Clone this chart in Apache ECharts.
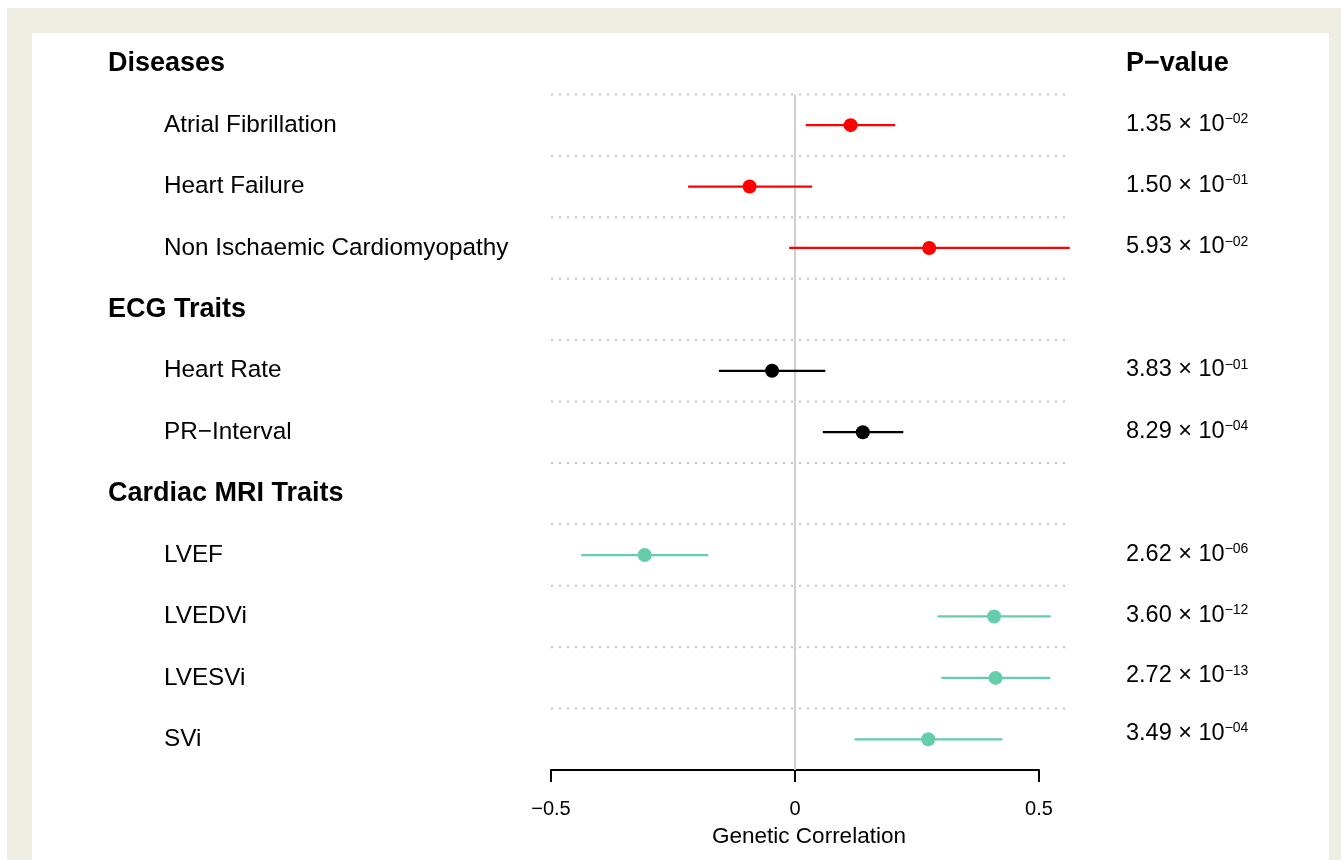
<!DOCTYPE html>
<html><head><meta charset="utf-8">
<script src="https://cdn.jsdelivr.net/npm/echarts@6/dist/echarts.min.js"></script>
<style>
html,body{margin:0;padding:0;background:#ffffff;width:1341px;height:860px;overflow:hidden;}
#bg{position:absolute;left:7px;top:8px;width:1334px;height:852px;background:#efeee4;}
#panel{position:absolute;left:32px;top:33px;width:1297px;height:827px;background:#ffffff;}
#chart{position:absolute;left:0;top:0;width:1341px;height:860px;}
</style></head>
<body>
<div id="bg"></div><div id="panel"></div><div id="chart"></div>
<script>
// ---------------- data ----------------
const groups = ['Diseases', 'ECG Traits', 'Cardiac MRI Traits'];
const traits = ['Atrial Fibrillation', 'Heart Failure', 'Non Ischaemic Cardiomyopathy',
                'Heart Rate', 'PR\u2212Interval',
                'LVEF', 'LVEDVi', 'LVESVi', 'SVi'];
const traitGroup = [0, 0, 0, 1, 1, 2, 2, 2, 2];
const estimate = [0.114, -0.093, 0.275, -0.047, 0.139, -0.308, 0.408, 0.411, 0.273];
const lowerCI  = [0.022, -0.219, -0.012, -0.156, 0.057, -0.438, 0.292, 0.300, 0.122];
const upperCI  = [0.205, 0.035, 0.563, 0.062, 0.222, -0.178, 0.524, 0.523, 0.425];
const pMantissa = ['1.35', '1.50', '5.93', '3.83', '8.29', '2.62', '3.60', '2.72', '3.49'];
const pExponent = ['\u221202', '\u221201', '\u221202', '\u221201', '\u221204', '\u221206', '\u221212', '\u221213', '\u221204'];
const xTickValues = [-0.5, 0, 0.5];
const pHeader = 'P\u2212value';
const xTitle = 'Genetic Correlation';

// ---------------- styles ----------------
const groupColors = ['#FF0000', '#000000', '#66CDAA'];
const FONT = '"Liberation Sans", Arial, Helvetica, sans-serif';
const separatorEnd = 0.557;          // dotted guide lines run slightly past the axis end
const pLabelRaise = [0, 0, 0, 0, 0, 0, 0, 3, 7]; // px each p-value label sits above its row

// ---------------- build rows ----------------
const rows = [];
groups.forEach((g, gi) => {
  rows.push({ label: g, header: true });
  traits.forEach((t, ti) => { if (traitGroup[ti] === gi) rows.push({ label: t, header: false, ti: ti }); });
});
const categories = rows.map(r => r.label);
const forestData = [];
rows.forEach((r, ri) => {
  if (!r.header) forestData.push([estimate[r.ti], ri, lowerCI[r.ti], upperCI[r.ti], traitGroup[r.ti]]);
});
const separatorData = rows.slice(0, -1).map((r, ri) => [xTickValues[0], ri]);

const pRich = {
  ph: { fontSize: 27, fontWeight: 'bold', color: '#000', fontFamily: FONT },
  pm: { fontSize: 23.5, lineHeight: 26, verticalAlign: 'top', color: '#000', fontFamily: FONT },
  pe: { fontSize: 14, lineHeight: 18, verticalAlign: 'top', color: '#000', fontFamily: FONT }
};
pLabelRaise.forEach((r, i) => {
  pRich['sp' + i] = { fontSize: 1, lineHeight: 22 + 2 * r, width: 0, verticalAlign: 'top' };
});

const chart = echarts.init(document.getElementById('chart'), null, { renderer: 'canvas' });

const option = {
  backgroundColor: 'transparent',
  animation: false,
  textStyle: { fontFamily: FONT },
  grid: { left: 551, right: 302, top: 33, bottom: 90, containLabel: false },
  xAxis: {
    type: 'value', min: -0.5, max: 0.5, interval: 0.5,
    axisLine: { show: true, lineStyle: { color: '#000', width: 2 } },
    axisTick: { show: true, length: 12, lineStyle: { color: '#000', width: 2 } },
    splitLine: { show: false },
    axisLabel: {
      color: '#000', fontSize: 20, fontFamily: FONT, margin: 29,
      formatter: v => (v < 0 ? '\u2212' + Math.abs(v) : String(v))
    },
    name: xTitle, nameLocation: 'middle', nameGap: 55,
    nameTextStyle: { color: '#000', fontSize: 22.5, fontFamily: FONT, padding: [0, 0, 0, 28] }
  },
  yAxis: [{
    type: 'category', data: categories, inverse: true,
    axisLine: { show: false }, axisTick: { show: false }, splitLine: { show: false },
    axisLabel: {
      interval: 0, align: 'left', margin: 443, color: '#000',
      formatter: (v, i) => rows[i].header ? '{h|' + v + '}' : '{it|' + v + '}',
      rich: {
        h: { fontSize: 27, fontWeight: 'bold', color: '#000', fontFamily: FONT },
        it: { fontSize: 24.3, color: '#000', fontFamily: FONT, padding: [0, 0, 0, 56] }
      }
    }
  }, {
    type: 'category', data: categories, inverse: true, position: 'right',
    axisLine: { show: false }, axisTick: { show: false }, splitLine: { show: false },
    axisLabel: {
      interval: 0, align: 'left', margin: 87, color: '#000',
      formatter: (v, i) => {
        if (i === 0) return '{ph|' + pHeader + '}';
        const r = rows[i];
        if (r.header) return '';
        return '{pm|' + pMantissa[r.ti] + ' \u00d7 10}{pe|' + pExponent[r.ti] + '}{sp' + r.ti + '|\u200b}';
      },
      rich: pRich
    }
  }],
  series: [{
    type: 'custom', name: 'separators', clip: false, z: 1,
    encode: { x: 0, y: 1 },
    data: separatorData,
    renderItem: (params, api) => {
      const idx = api.value(1);
      const band = api.size([0, 1])[1];
      const a = api.coord([api.value(0), idx]);
      const b = api.coord([separatorEnd, idx]);
      const y = a[1] + band / 2;
      return { type: 'line', shape: { x1: a[0], y1: y, x2: b[0], y2: y },
        style: { stroke: '#c4c4c4', lineWidth: 2, lineDash: [2, 6] } };
    }
  }, {
    type: 'custom', name: 'zero', clip: false, z: 2,
    encode: { x: 0, y: 1 },
    data: [[0, 0]],
    renderItem: (params, api) => {
      const band = api.size([0, 1])[1];
      const p = api.coord([api.value(0), api.value(1)]);
      const bottom = params.coordSys.y + params.coordSys.height;
      return { type: 'line', shape: { x1: p[0], y1: p[1] + band / 2, x2: p[0], y2: bottom },
        style: { stroke: '#cfcfcf', lineWidth: 2 } };
    }
  }, {
    type: 'custom', name: 'forest', clip: false, z: 3,
    encode: { x: 0, y: 1 },
    data: forestData,
    renderItem: (params, api) => {
      const row = api.value(1);
      const c = api.coord([api.value(0), row]);
      const lo = api.coord([api.value(2), row]);
      const hi = api.coord([api.value(3), row]);
      const col = groupColors[api.value(4)];
      return { type: 'group', children: [
        { type: 'line', shape: { x1: lo[0], y1: c[1], x2: hi[0], y2: c[1] }, style: { stroke: col, lineWidth: 2.2 } },
        { type: 'circle', shape: { cx: c[0], cy: c[1], r: 7 }, style: { fill: col } }
      ] };
    }
  }]
};
chart.setOption(option);
</script>
</body></html>
